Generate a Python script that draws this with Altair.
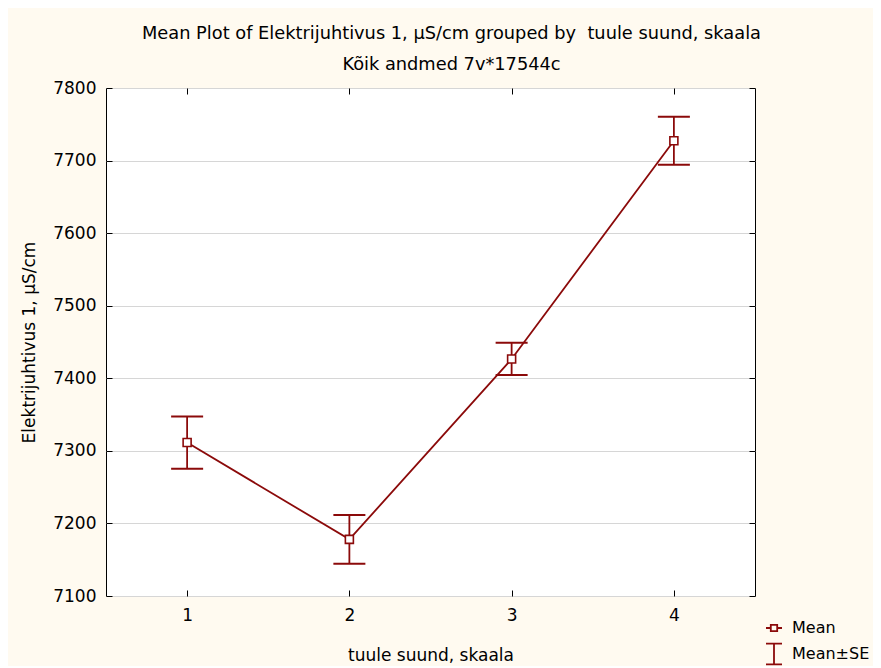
import altair as alt
import pandas as pd

# ---- data ----
categories = [1, 2, 3, 4]
means = [7311.5, 7178.0, 7426.6, 7727.4]
se = [36.0, 33.5, 22.2, 33.0]
legend_entries = ["Mean", "Mean±SE"]
y_ticks = [7100, 7200, 7300, 7400, 7500, 7600, 7700, 7800]

title_lines = [
    "Mean Plot of Elektrijuhtivus 1, µS/cm grouped by\u00a0 tuule suund, skaala",
    "Kõik andmed 7v*17544c",
]
x_title = "tuule suund, skaala"
y_title = "Elektrijuhtivus 1, µS/cm"

DARK = "#8B0A0A"
FONT = "DejaVu Sans"

df = pd.DataFrame({
    "cat": categories,
    "mean": means,
    "lo": [m - s for m, s in zip(means, se)],
    "hi": [m + s for m, s in zip(means, se)],
})
df_leg = pd.DataFrame({"series": legend_entries, "cat": [categories[0]] * 2, "mean": [means[0]] * 2})

xs = alt.Scale(domain=[0.5, 4.5], nice=False, zero=False)
ys = alt.Scale(domain=[7100, 7800], nice=False, zero=False)

base = alt.Chart(df)

line = base.mark_line(color=DARK, strokeWidth=1.8).encode(
    x=alt.X("cat:Q", scale=xs, axis=alt.Axis(
        values=categories, format="d", grid=False, domain=False,
        ticks=False, labelPadding=11, labelFontSize=17, labelFont=FONT,
        labelColor="black", title=x_title, titleFontSize=17, titleFont=FONT,
        titleFontWeight="normal", titleColor="black", titlePadding=24)),
    y=alt.Y("mean:Q", scale=ys, axis=alt.Axis(
        values=y_ticks, format="d", grid=True, gridColor="#D6D6D6", domain=False,
        ticks=False, labelPadding=10, labelFontSize=17, labelFont=FONT,
        labelColor="black", title=y_title, titleFontSize=17, titleFont=FONT,
        titleFontWeight="normal", titleColor="black", titlePadding=14)),
)

tick_axis_x = dict(values=categories, labels=False, domain=False, grid=False,
                   title=None, tickSize=6, tickColor="black", tickWidth=1, offset=-6)
tick_axis_y = dict(values=y_ticks, labels=False, domain=False, grid=False,
                   title=None, tickSize=6, tickColor="black", tickWidth=1, offset=-6)

ticks_tr = base.mark_point(opacity=0).encode(
    x=alt.X("cat:Q", scale=xs, axis=alt.Axis(orient="top", **tick_axis_x)),
    y=alt.Y("mean:Q", scale=ys, axis=alt.Axis(orient="right", **tick_axis_y)),
)
ticks_bl = base.mark_point(opacity=0).encode(
    x=alt.X("cat:Q", scale=xs, axis=alt.Axis(orient="bottom", **tick_axis_x)),
    y=alt.Y("mean:Q", scale=ys, axis=alt.Axis(orient="left", **tick_axis_y)),
)

rules = base.mark_rule(color=DARK, strokeWidth=1.8).encode(
    x=alt.X("cat:Q", scale=xs, axis=None),
    y=alt.Y("lo:Q", scale=ys, axis=None),
    y2="hi:Q",
)
caps_hi = base.mark_tick(color=DARK, orient="horizontal", size=32, thickness=2, opacity=1).encode(
    x=alt.X("cat:Q", scale=xs, axis=None),
    y=alt.Y("hi:Q", scale=ys, axis=None),
)
caps_lo = base.mark_tick(color=DARK, orient="horizontal", size=32, thickness=2, opacity=1).encode(
    x=alt.X("cat:Q", scale=xs, axis=None),
    y=alt.Y("lo:Q", scale=ys, axis=None),
)
points = base.mark_point(shape="square", size=64, filled=False, color=DARK,
                         strokeWidth=1.6, fill="white", fillOpacity=1, opacity=1).encode(
    x=alt.X("cat:Q", scale=xs, axis=None),
    y=alt.Y("mean:Q", scale=ys, axis=None),
)

MEAN_PATH = "M-1,0H-0.4M0.4,0H1M-0.4,-0.4H0.4V0.4H-0.4Z"
SE_PATH = "M-1,-1.3H1M0,-1.3V1.3M-1,1.3H1"

legend_layer = alt.Chart(df_leg).mark_point(opacity=0, filled=False, color=DARK, strokeWidth=1.8).encode(
    x=alt.X("cat:Q", scale=xs, axis=None),
    y=alt.Y("mean:Q", scale=ys, axis=None),
    shape=alt.Shape("series:N", scale=alt.Scale(domain=legend_entries, range=[MEAN_PATH, SE_PATH]),
                    legend=alt.Legend(title=None, orient="none", legendX=659, legendY=531,
                                      symbolSize=256, symbolStrokeWidth=1.8,
                                      symbolStrokeColor=DARK, symbolFillColor="transparent",
                                      symbolOpacity=1, labelFontSize=16, labelFont=FONT,
                                      labelColor="black", labelOffset=9, rowPadding=4,
                                      padding=0)),
)

chart = alt.layer(
    line, ticks_tr, ticks_bl, rules, caps_hi, caps_lo, points, legend_layer
).resolve_axis(x="independent", y="independent").properties(
    width=649,
    height=508,
    autosize=alt.AutoSizeParams(type="none"),
    padding={"left": 98, "top": 80, "right": 118, "bottom": 70},
    background="#FFFAF0",
    title=alt.TitleParams(text=title_lines, fontSize=17.8, font=FONT, fontWeight="normal",
                          color="black", anchor="middle", dx=21, lineHeight=31, offset=5),
).configure_view(stroke="black", strokeWidth=1, fill="white")

chart.save("out.html", embed_options={"renderer": "svg", "actions": False})
